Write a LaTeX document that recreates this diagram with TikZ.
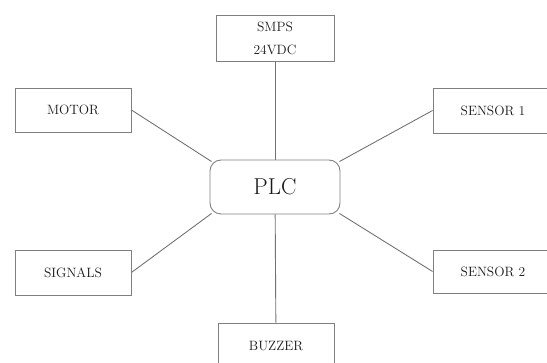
\documentclass[tikz,border=0pt]{standalone}
\usepackage{tikz}

\begin{document}
\begin{tikzpicture}[x=1pt,y=-1pt,
    part/.style={draw=black!50,line width=0.9pt,minimum width=116pt,minimum height=45pt,
      inner sep=0pt,text=black!90,font=\fontsize{13.5}{23}\selectfont,align=center},
    link/.style={draw=black!55,line width=0.9pt}]
  \useasboundingbox (0,0) rectangle (547,363);
  \node[part,rounded corners=11pt,minimum width=130pt,minimum height=54pt,
    font=\fontsize{23}{26}\selectfont] (plc) at (275,187) {PLC};
  \node[part,minimum width=118pt,minimum height=46pt] (smps) at (275,38) {SMPS\\24VDC};
  \node[part,minimum height=44pt] (motor) at (73,110) {MOTOR};
  \node[part,minimum width=120pt] (s1) at (493,110.5) {SENSOR 1};
  \node[part] (sig) at (73,272.5) {SIGNALS};
  \node[part,minimum width=120pt,minimum height=43pt] (s2) at (493,271.5) {SENSOR 2};
  \node[part,minimum height=46pt] (buz) at (276,346) {BUZZER};
  \draw[link] (smps) -- (plc);
  \draw[link] (plc) -- (buz);
  \draw[link] (motor.east) -- ([shift={(2,2)}]plc.north west);
  \draw[link] (s1.west) -- ([shift={(-1,2)}]plc.north east);
  \draw[link] (sig.east) -- ([shift={(2,-1)}]plc.south west);
  \draw[link] (s2.west) -- ([shift={(-1,-1)}]plc.south east);
\end{tikzpicture}
\end{document}
